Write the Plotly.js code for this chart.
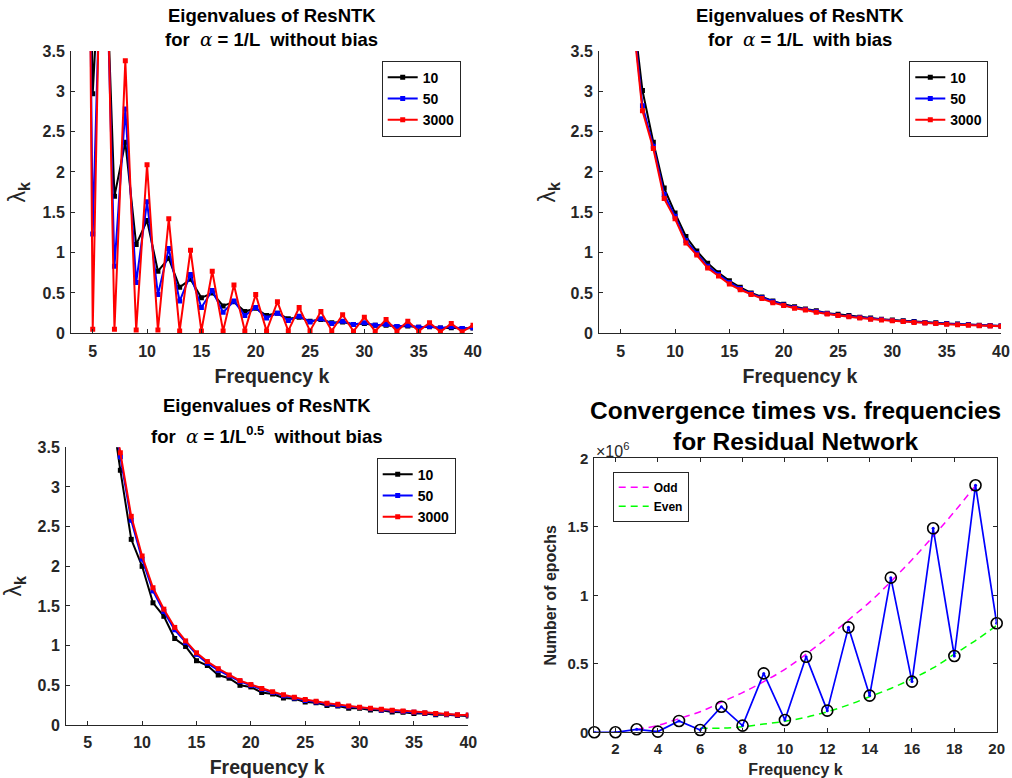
<!DOCTYPE html>
<html>
<head>
<meta charset="utf-8">
<script src="https://cdn.plot.ly/plotly-3.0.1.min.js"></script>
<style>html,body{margin:0;padding:0;background:#fff;}#chart{width:1012px;height:778px;}</style>
</head>
<body>
<div id="chart"></div>
<script>
// ---------- data ----------
const seriesNames = ['10', '50', '3000'];

// Panel 1: alpha = 1/L without bias (k = 4..40)
const k1 = [];
for (let k = 4; k <= 40; k++) k1.push(k);
const p1_10 = [12, 2.97, 5.5, 1.70, 2.37, 1.10, 1.40, 0.77, 0.93, 0.57, 0.67, 0.44, 0.50, 0.34, 0.39, 0.27, 0.31, 0.22, 0.25, 0.18, 0.20, 0.15, 0.17, 0.13, 0.14, 0.11, 0.12, 0.10, 0.10, 0.085, 0.09, 0.075, 0.08, 0.065, 0.07, 0.06, 0.065];
const p1_50 = [14, 1.23, 6, 0.83, 2.78, 0.63, 1.63, 0.48, 1.05, 0.40, 0.73, 0.32, 0.53, 0.26, 0.40, 0.22, 0.32, 0.19, 0.25, 0.16, 0.21, 0.14, 0.18, 0.12, 0.15, 0.11, 0.13, 0.10, 0.11, 0.085, 0.10, 0.075, 0.085, 0.065, 0.08, 0.06, 0.07];
const p1_3000 = [17, 0.05, 7, 0.05, 3.38, 0.04, 2.09, 0.04, 1.42, 0.03, 1.03, 0.03, 0.77, 0.03, 0.60, 0.03, 0.48, 0.03, 0.39, 0.03, 0.32, 0.03, 0.27, 0.03, 0.23, 0.025, 0.20, 0.025, 0.17, 0.025, 0.15, 0.025, 0.13, 0.02, 0.12, 0.02, 0.10];

// Panel 2: alpha = 1/L with bias (k = 6..40)
const k2 = [];
for (let k = 6; k <= 40; k++) k2.push(k);
const p2_10 = [4.15, 3.01, 2.37, 1.80, 1.49, 1.20, 1.02, 0.87, 0.75, 0.65, 0.57, 0.50, 0.45, 0.40, 0.36, 0.33, 0.30, 0.28, 0.25, 0.235, 0.22, 0.20, 0.19, 0.175, 0.165, 0.155, 0.145, 0.135, 0.13, 0.12, 0.115, 0.11, 0.10, 0.097, 0.092];
const p2_50 = [4.1, 2.82, 2.32, 1.72, 1.45, 1.15, 0.99, 0.83, 0.73, 0.63, 0.555, 0.49, 0.44, 0.39, 0.35, 0.32, 0.295, 0.27, 0.245, 0.225, 0.21, 0.195, 0.18, 0.17, 0.16, 0.15, 0.14, 0.132, 0.125, 0.117, 0.111, 0.105, 0.098, 0.093, 0.089];
const p2_3000 = [4.05, 2.76, 2.29, 1.67, 1.42, 1.12, 0.97, 0.81, 0.71, 0.61, 0.54, 0.48, 0.43, 0.38, 0.345, 0.31, 0.29, 0.26, 0.24, 0.22, 0.205, 0.19, 0.175, 0.165, 0.155, 0.145, 0.135, 0.128, 0.12, 0.113, 0.107, 0.10, 0.095, 0.09, 0.087];

// Panel 3: alpha = 1/L^0.5 without bias (k = 7..40)
const k3 = [];
for (let k = 7; k <= 40; k++) k3.push(k);
const p3_10 = [4.15, 3.21, 2.34, 2.0, 1.54, 1.37, 1.09, 0.99, 0.81, 0.75, 0.63, 0.59, 0.50, 0.48, 0.41, 0.39, 0.34, 0.33, 0.29, 0.28, 0.245, 0.24, 0.21, 0.21, 0.19, 0.185, 0.165, 0.16, 0.145, 0.145, 0.13, 0.13, 0.12, 0.115];
const p3_50 = [4.25, 3.38, 2.58, 2.09, 1.69, 1.43, 1.20, 1.04, 0.89, 0.78, 0.69, 0.62, 0.55, 0.50, 0.45, 0.41, 0.37, 0.34, 0.31, 0.29, 0.265, 0.25, 0.23, 0.22, 0.205, 0.19, 0.18, 0.17, 0.16, 0.15, 0.14, 0.135, 0.127, 0.122];
const p3_3000 = [4.3, 3.43, 2.63, 2.13, 1.73, 1.46, 1.23, 1.06, 0.91, 0.80, 0.71, 0.63, 0.56, 0.51, 0.46, 0.42, 0.38, 0.35, 0.32, 0.30, 0.275, 0.26, 0.24, 0.225, 0.21, 0.20, 0.185, 0.175, 0.165, 0.155, 0.145, 0.14, 0.13, 0.125];

// Panel 4: convergence times (x 10^6 epochs)
const k4 = [1, 2, 3, 4, 5, 6, 7, 8, 9, 10, 11, 12, 13, 14, 15, 16, 17, 18, 19, 20];
const epochs = [0, 0, 0.022, 0.005, 0.083, 0.017, 0.187, 0.049, 0.43, 0.09, 0.552, 0.158, 0.766, 0.268, 1.129, 0.37, 1.489, 0.557, 1.803, 0.796];
const kOdd = [3, 4, 5, 6, 7, 8, 9, 10, 11, 12, 13, 14, 15, 16, 17, 18, 19];
const oddFit = [0.02, 0.05, 0.10, 0.15, 0.22, 0.29, 0.37, 0.46, 0.57, 0.69, 0.82, 0.95, 1.10, 1.26, 1.43, 1.61, 1.80];
const kEven = [6, 7, 8, 9, 10, 11, 12, 13, 14, 15, 16, 17, 18, 19, 20];
const evenFit = [0.03, 0.03, 0.04, 0.06, 0.08, 0.11, 0.15, 0.20, 0.26, 0.32, 0.39, 0.47, 0.57, 0.67, 0.78];

// ---------- helpers ----------
const FONT = 'Liberation Sans, Arial, Helvetica, sans-serif';
const GRAY = '#262626';
const colors = ['#000000', '#0000ff', '#ff0000'];
const W = 1012, H = 778;
const px = v => v / W;
const py = v => 1 - v / H;

const traces = [];
function addEig(kx, ys, xa, ya, leg) {
  ys.forEach((y, i) => {
    traces.push({
      x: kx, y: y, type: 'scatter', mode: 'lines+markers',
      name: seriesNames[i], xaxis: xa, yaxis: ya, legend: leg,
      line: {color: colors[i], width: 2},
      marker: {symbol: 'square', size: 5, color: colors[i]}
    });
  });
}
addEig(k1, [p1_10, p1_50, p1_3000], 'x', 'y', 'legend');
addEig(k2, [p2_10, p2_50, p2_3000], 'x2', 'y2', 'legend2');
addEig(k3, [p3_10, p3_50, p3_3000], 'x3', 'y3', 'legend3');

traces.push({x: kOdd, y: oddFit, type: 'scatter', mode: 'lines', name: 'Odd', xaxis: 'x4', yaxis: 'y4', legend: 'legend4',
  line: {color: '#ff00ff', width: 1.5, dash: '7px,5px', shape: 'spline'}});
traces.push({x: kEven, y: evenFit, type: 'scatter', mode: 'lines', name: 'Even', xaxis: 'x4', yaxis: 'y4', legend: 'legend4',
  line: {color: '#00ff00', width: 1.5, dash: '7px,5px', shape: 'spline'}});
traces.push({x: k4, y: epochs, type: 'scatter', mode: 'lines+markers', name: 'epochs', showlegend: false, xaxis: 'x4', yaxis: 'y4',
  line: {color: '#0000ff', width: 1.7}, marker: {symbol: 'circle', size: 3, color: '#0000ff'}});
traces.push({x: k4, y: epochs, type: 'scatter', mode: 'markers', name: 'points', showlegend: false, xaxis: 'x4', yaxis: 'y4',
  marker: {symbol: 'circle-open', size: 11, color: '#000000', line: {width: 1.6, color: '#000000'}}, cliponaxis: false});

function xAxis(domain, anchor, range, dtick, fs, tfs, standoff, box) {
  return {
    domain: domain, anchor: anchor, range: range, dtick: dtick, tick0: 0,
    showline: true, linecolor: GRAY, linewidth: 1, mirror: box ? 'ticks' : false,
    ticks: 'inside', ticklen: 4, tickcolor: GRAY, showgrid: false, zeroline: false,
    ticklabelstandoff: 3,
    tickfont: {family: FONT, size: fs, color: GRAY, weight: 'bold'},
    title: {text: 'Frequency k', font: {family: FONT, size: tfs, color: GRAY, weight: 'bold'}, standoff: standoff},
    automargin: false, fixedrange: true
  };
}
function yAxis(domain, anchor, range, title, fs, tfs, standoff, box) {
  return {
    domain: domain, anchor: anchor, range: range, dtick: 0.5, tick0: 0,
    showline: true, linecolor: GRAY, linewidth: 1, mirror: box ? 'ticks' : false,
    ticks: 'inside', ticklen: 4, tickcolor: GRAY, showgrid: false, zeroline: false,
    ticklabelstandoff: 2,
    tickfont: {family: FONT, size: fs, color: GRAY, weight: 'bold'},
    title: {text: title, font: {family: FONT, size: tfs, color: GRAY, weight: 'bold'}, standoff: standoff},
    automargin: false, fixedrange: true
  };
}
const lam = '<span style="font-weight:normal">λ</span><sub>k</sub>';

function legendBox(x, y, fs) {
  return {x: x, y: y, xanchor: 'left', yanchor: 'top', xref: 'paper', yref: 'paper',
    bgcolor: '#ffffff', bordercolor: GRAY, borderwidth: 1,
    font: {family: FONT, size: fs, color: '#000000', weight: 'bold'},
    tracegroupgap: 0, itemwidth: 30, itemclick: false};
}

function title(text, x, y, size) {
  return {text: text, x: px(x), y: py(y), xref: 'paper', yref: 'paper', xanchor: 'center', yanchor: 'middle',
    showarrow: false, font: {family: FONT, size: size, color: '#000000', weight: 'bold'}};
}
const alpha = '<span style="font-family:DejaVu Serif;font-style:italic;font-weight:normal">α</span>';

const layout = {
  width: W, height: H, margin: {l: 0, r: 0, t: 0, b: 0},
  paper_bgcolor: '#ffffff', plot_bgcolor: '#ffffff',
  font: {family: FONT, color: GRAY},
  showlegend: true,
  xaxis: xAxis([px(71), px(473)], 'y', [3, 40], 5, 16, 19.5, 10, false),
  yaxis: yAxis([py(333.3), py(51)], 'x', [0, 3.5], lam, 16, 23, 10, false),
  xaxis2: xAxis([px(599), px(1001)], 'y2', [3, 40], 5, 16, 19.5, 10, false),
  yaxis2: yAxis([py(333.3), py(51)], 'x2', [0, 3.5], lam, 16, 23, 8, false),
  xaxis3: xAxis([px(66), px(468.3)], 'y3', [3, 40], 5, 16, 19.5, 10, false),
  yaxis3: yAxis([py(725), py(447.3)], 'x3', [0, 3.5], lam, 16, 23, 10, false),
  xaxis4: xAxis([px(594.3), px(996.7)], 'y4', [1, 20], 2, 15, 16, 8, true),
  yaxis4: yAxis([py(732.3), py(458.3)], 'x4', [0, 2], 'Number of epochs', 15, 16, 6, true),
  legend: legendBox(px(381.7), py(60.7), 14),
  legend2: legendBox(px(909.3), py(60.7), 14),
  legend3: legendBox(px(376.7), py(457.7), 14),
  legend4: legendBox(px(612.7), py(471.7), 12),
  annotations: [
    title('Eigenvalues of ResNTK', 271.7, 15, 18.5),
    title('for  ' + alpha + ' = 1/L  without bias', 271.7, 39, 18.5),
    title('Eigenvalues of ResNTK', 800, 15, 18.5),
    title('for  ' + alpha + ' = 1/L  with bias', 800, 39, 18.5),
    title('Eigenvalues of ResNTK', 266.8, 405.5, 18.5),
    title('for  ' + alpha + ' = 1/L<sup>0.5</sup>  without bias', 266.8, 434.5, 18.5),
    title('Convergence times vs. frequencies', 795, 410, 24.5),
    title('for Residual Network', 795, 441.7, 24.5),
    {text: '×10<sup>6</sup>', x: px(594), y: py(450), xref: 'paper', yref: 'paper', xanchor: 'left', yanchor: 'middle',
      showarrow: false, font: {family: FONT, size: 16, color: GRAY}}
  ]
};

Plotly.newPlot('chart', traces, layout, {staticPlot: true, displayModeBar: false});
</script>
</body>
</html>
